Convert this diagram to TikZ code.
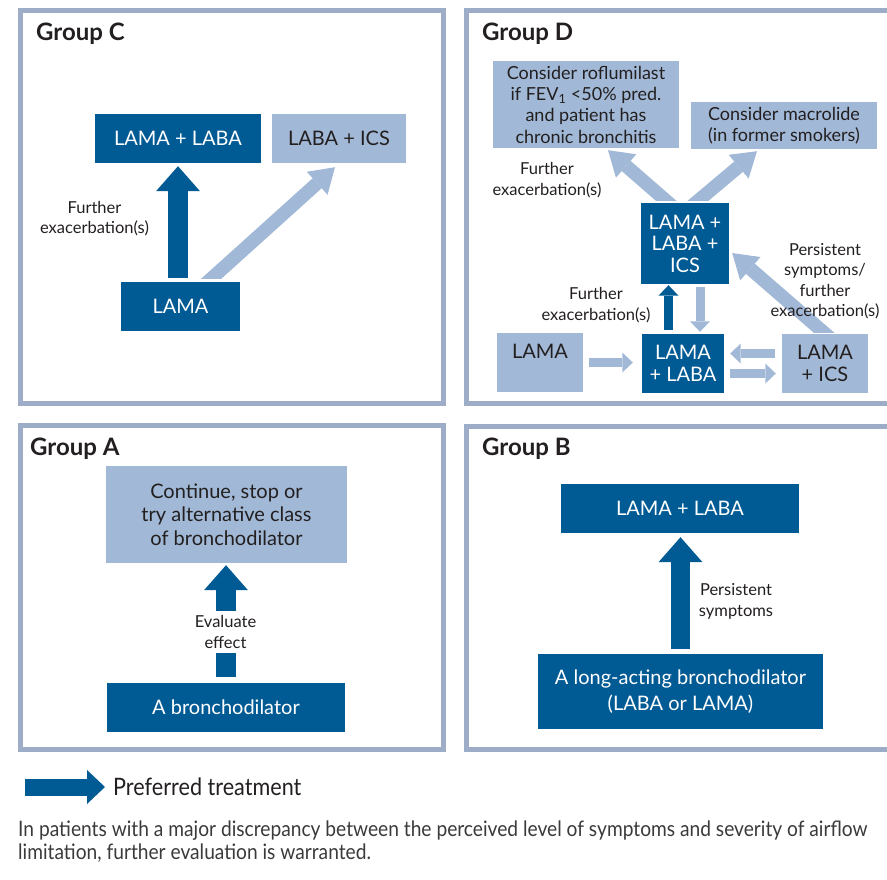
\documentclass[tikz,border=0pt]{standalone}
\usepackage{fontspec}
\setmainfont{Lato}
\newfontfamily\notefont[FakeStretch=0.9]{Lato}
\usetikzlibrary{arrows.meta,calc}

\definecolor{copddark}{HTML}{005A94}
\definecolor{copdlight}{HTML}{A1B9D6}
\definecolor{copdframe}{HTML}{9DACC7}
\definecolor{copdtext}{HTML}{231F20}
\definecolor{copdnote}{HTML}{3A3A3A}

\begin{document}
\begin{tikzpicture}[x=1pt,y=-1pt,
    grp/.style={draw=copdframe, line width=5pt},
    grouptitle/.style={anchor=base west, inner sep=0pt, text=copdtext,
      font=\fontsize{24}{26}\selectfont\bfseries},
    darkbox/.style={fill=copddark, text=white, align=center, inner sep=0pt,
      font=\fontsize{20}{21.5}\selectfont},
    lightbox/.style={darkbox, fill=copdlight, text=copdtext},
    remark/.style={align=center, inner sep=0pt, text=copdtext,
      font=\fontsize{16.5}{20.5}\selectfont},
    notestyle/.style={inner sep=0pt, text=copdnote,
      font=\notefont\fontsize{21.3}{22.5}\selectfont},
    preferred/.style={draw=copddark, line width=19.5pt,
      -{Triangle[width=44pt,length=25pt,line width=0pt]}},
    thinpref/.style={draw=copddark, line width=9pt,
      -{Triangle[width=20pt,length=10.5pt,line width=0pt]}},
    thinalt/.style={thinpref, draw=copdlight},
    alternative/.style={draw=copdlight, line width=13.5pt,
      -{Triangle[width=31pt,length=24pt,line width=0pt]}},
    legendarrow/.style={draw=copddark, line width=17pt,
      -{Triangle[width=34pt,length=18pt,line width=0pt]}}]
  \useasboundingbox (0,0) rectangle (887,879);
  \clip (0,0) rectangle (887,879);
  % the four group frames
  \draw[grp] (20.5,10.5) rectangle (443.5,403.5);
  \draw[grp] (466.5,10.5) rectangle (900,403.5);
  \draw[grp] (20.5,425.5) rectangle (443.5,749.5);
  \draw[grp] (466.5,426.5) rectangle (900,749.5);

  % group C
  \node[grouptitle] (c-title) at (36,40) {Group C};
  \node[darkbox, minimum width=166pt, minimum height=49pt] (c-dual) at (178,138.5) {LAMA + LABA};
  \node[lightbox, minimum width=134pt, minimum height=49pt] (c-ics) at (339,138.5) {LABA + ICS};
  \node[darkbox, minimum width=119pt, minimum height=49pt] (c-lama) at (180.5,306.5) {LAMA};
  \draw[preferred, shorten <=4pt, shorten >=3pt] (c-dual.south |- c-lama.north) -- (c-dual.south);
  \begin{scope}
    \clip (0,0) rectangle (443,278);
    \draw[alternative] ($(c-lama.north)+(24,3)$) -- ($(c-ics.south)+(-4,4)$);
  \end{scope}
  \node[remark] (c-further) at (94.5,218.5) {Further\\exacerbation(s)};

  % group D
  \node[grouptitle] (d-title) at (482,40) {Group D};
  \node[lightbox, minimum width=186pt, minimum height=87pt, font=\fontsize{18}{21.3}\selectfont] (d-roflu) at (586,104.5)
    {Consider roflumilast\\if FEV\textsubscript{1} <50\% pred.\\and patient has\\chronic bronchitis};
  \node[lightbox, minimum width=186pt, minimum height=47pt, font=\fontsize{18}{21.5}\selectfont] (d-macro) at (784,125.5)
    {Consider macrolide\\(in former smokers)};
  \node[darkbox, minimum width=88pt, minimum height=81pt] (d-triple) at (685,243.5) {LAMA +\\LABA +\\ICS};
  \node[lightbox, minimum width=86pt, minimum height=59pt] (d-lama) at (540,362.5) {LAMA\\\mbox{}};
  \node[darkbox, minimum width=82pt, minimum height=59pt] (d-dual) at (683,363.5) {LAMA\\+ LABA};
  \node[lightbox, minimum width=86pt, minimum height=59pt] (d-lamaics) at (825,363.5) {LAMA\\+ ICS};
  \begin{scope}
    \clip (460,0) rectangle (887,200);
    \draw[alternative] ($(d-triple.north)+(-12.5,3.5)$) -- ($(d-roflu.south)+(22,2)$);
    \draw[alternative] ($(d-triple.north)+(6.5,3.5)$) -- ($(d-macro.south)+(-27,2)$);
  \end{scope}
  \begin{scope}
    \clip (460,0) rectangle (887,332);
    \draw[alternative] ($(d-lamaics.north)+(5.5,4.5)$) -- ($(d-triple.east)+(3,9.5)$);
  \end{scope}
  \draw[thinpref, shorten <=4pt, shorten >=1pt] ($(d-dual.north)+(-14.5,0)$) -- ($(d-triple.south)+(-16.5,0)$);
  \draw[thinalt, shorten <=3pt, shorten >=2pt] ($(d-triple.south)+(15,0)$) -- ($(d-dual.north)+(17,0)$);
  \draw[thinalt, shorten <=6pt, shorten >=9pt] (d-lama.east) -- (d-lama.east -| d-dual.west);
  \coordinate (d-ics-out) at ($(d-lamaics.west)+(0,-10)$);
  \coordinate (d-dual-out) at ($(d-dual.east)+(0,10)$);
  \draw[thinalt, shorten <=7pt, shorten >=6pt] (d-ics-out) -- (d-ics-out -| d-dual.east);
  \draw[thinalt, shorten <=6pt, shorten >=6pt] (d-dual-out) -- (d-dual-out -| d-lamaics.west);
  \node[remark] (d-further-top) at (547,180) {Further\\exacerbation(s)};
  \node[remark] (d-further-low) at (596,305) {Further\\exacerbation(s)};
  \node[remark] (d-persist) at (825,281) {Persistent\\symptoms/\\further\\exacerbation(s)};

  % group A
  \node[grouptitle] (a-title) at (30,455) {Group A};
  \node[lightbox, minimum width=241pt, minimum height=97pt, font=\fontsize{20}{23.5}\selectfont] (a-next) at (226.5,514.5)
    {Continue, stop or\\try alternative class\\of bronchodilator};
  \node[darkbox, minimum width=238pt, minimum height=49pt] (a-broncho) at (226,707.5) {A bronchodilator};
  \draw[preferred, shorten <=6pt, shorten >=2pt] (a-broncho.north) -- (a-broncho.north |- a-next.south);
  \node[remark, fill=white, inner xsep=3pt, inner ysep=4.5pt] (a-effect) at (225.5,632) {Evaluate\\effect};

  % group B
  \node[grouptitle] (b-title) at (482,455) {Group B};
  \node[darkbox, minimum width=238pt, minimum height=49pt] (b-dual) at (680,508.5) {LAMA + LABA};
  \node[darkbox, minimum width=285pt, minimum height=75pt, font=\fontsize{20}{26}\selectfont] (b-single) at (680.5,691.5)
    {A long-acting bronchodilator\\(LABA or LAMA)};
  \draw[preferred, shorten <=5pt, shorten >=4pt] (b-single.north) -- (b-single.north |- b-dual.south);
  \node[remark] (b-persist) at (736,601.5) {Persistent\\symptoms};

  % legend and footnote
  \node[notestyle, anchor=base west, text=copdtext, font=\notefont\fontsize{24}{26}\selectfont] (legend-text) at (113,795)
    {Preferred treatment};
  \coordinate (legend-tail) at (25,787);
  \draw[legendarrow, shorten >=8pt] (legend-tail) -- (legend-tail -| legend-text.west);
  \node[notestyle, anchor=north west, align=left] (footnote) at (18,821)
    {In patients with a major discrepancy between the perceived level of symptoms and severity of airflow\\
     limitation, further evaluation is warranted.};
\end{tikzpicture}
\end{document}
